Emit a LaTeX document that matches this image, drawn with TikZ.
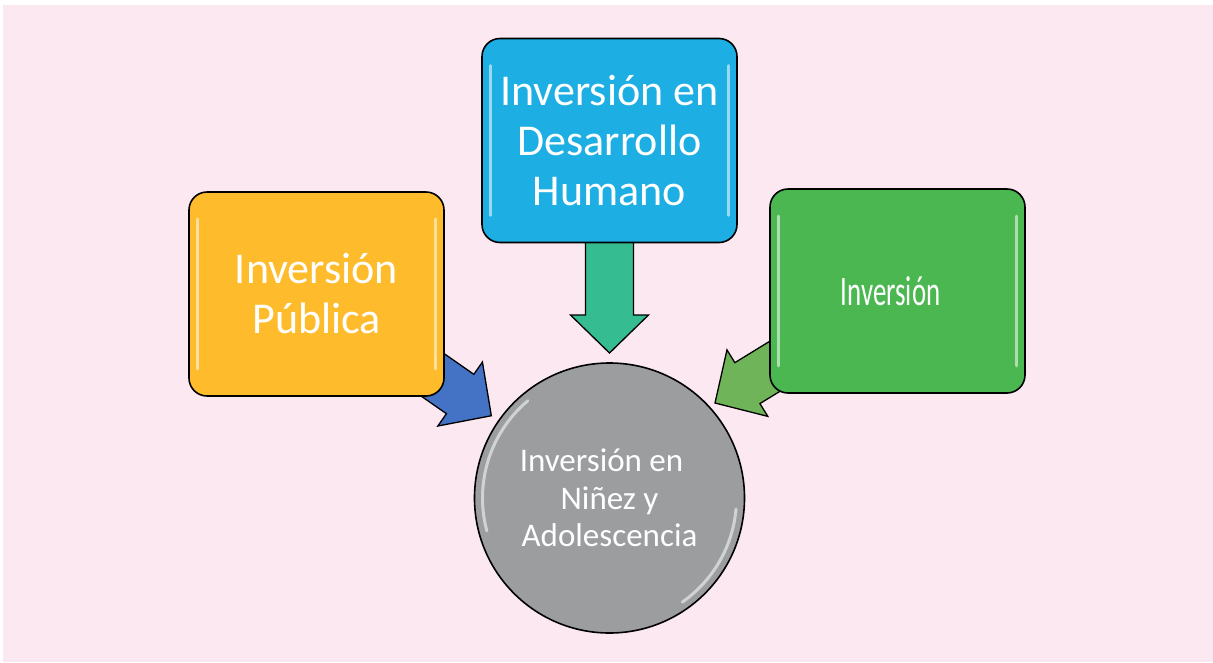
\documentclass[tikz,border=0pt]{standalone}
\usepackage{fontspec}
\setmainfont{Carlito}
\usepackage{tikz}
\usetikzlibrary{calc,backgrounds}

\definecolor{bgpink}{RGB}{252,232,241}
\definecolor{boxyellow}{RGB}{254,188,44}
\definecolor{boxblue}{RGB}{29,174,227}
\definecolor{boxgreen}{RGB}{75,183,81}
\definecolor{hubgray}{RGB}{155,157,158}
\definecolor{arrowteal}{RGB}{53,188,145}
\definecolor{arrowblue}{RGB}{68,114,196}
\definecolor{arrowgreen}{RGB}{112,180,90}

% block arrow: from, tip, colour
\newcommand{\blockarrow}[3]{%
  \coordinate (neck) at ($(#2)!38pt!(#1)$);
  \filldraw[blockline,fill=#3]
    ($(#1)!24pt!90:(#2)$) -- ($(neck)!24pt!90:(#2)$) -- ($(neck)!39pt!90:(#2)$)
    -- (#2)
    -- ($(neck)!39pt!-90:(#2)$) -- ($(neck)!24pt!-90:(#2)$) -- ($(#1)!24pt!-90:(#2)$) -- cycle;
}
% shine lines on a box
\newcommand{\gloss}[1]{%
  \draw[shine] ($(#1.north west)+(9,28)$) -- ($(#1.south west)+(9,-28)$);
  \draw[shine] ($(#1.north east)+(-9,28)$) -- ($(#1.south east)+(-9,-28)$);
}

\begin{document}
\begin{tikzpicture}[x=1pt,y=-1pt,
            box/.style={draw,line width=1.6pt,rounded corners=18pt,minimum width=255pt,minimum height=204pt,text=white,align=center,font=\fontsize{44}{50}\selectfont},
            hub/.style={draw,line width=1.6pt,circle,fill=hubgray,minimum size=270pt,text=white,align=center,font=\fontsize{33}{37.5}\selectfont},
            blockline/.style={draw=black,line width=1.3pt,line join=miter},
            shine/.style={white,opacity=.55,line width=3pt,line cap=round}
          ]
          \useasboundingbox (0,0) rectangle (1213,662);

          %boxes
          \node[box,fill=boxyellow] (publica) at (316.5,294) {Inversión\\Pública};
          \node[box,fill=boxblue] (desarrollo) at (609.5,140.5) {Inversión en\\Desarrollo\\Humano};
          \node[box,fill=boxgreen] (inversion) at (897.5,291) {\scalebox{.64}[1]{\fontsize{42}{48}\selectfont Inversión}\hspace*{14pt}};
          \node[hub] (ninez) at (609.5,498) {Inversión en\hspace*{16pt}\\Niñez y\\Adolescencia};

          \gloss{publica}
          \gloss{desarrollo}
          \gloss{inversion}
          \draw[shine] ([shift={(165:127)}]ninez.center) arc[start angle=165,end angle=230,radius=127];
          \draw[shine] ([shift={(5:127)}]ninez.center) arc[start angle=5,end angle=55,radius=127];

          %arrow tips
          \coordinate (ptip) at ($(ninez)!144pt!(publica)$);
          \coordinate (dtip) at ($(ninez)!145pt!(desarrollo)$);
          \coordinate (itip) at (715,403);

          %arrows
          \begin{pgfonlayer}{background}
            \fill[white] (0,0) rectangle (1213,662);
            \fill[bgpink] (3,5) rectangle (1213,662);
            \blockarrow{publica}{ptip}{arrowblue}
            \blockarrow{desarrollo}{dtip}{arrowteal}
            \blockarrow{inversion}{itip}{arrowgreen}
          \end{pgfonlayer}

      \end{tikzpicture}
\end{document}
